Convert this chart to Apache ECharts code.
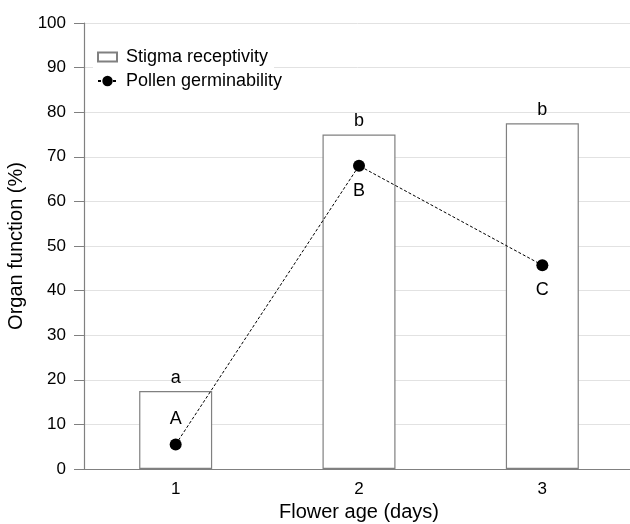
<!DOCTYPE html>
<html><head><meta charset="utf-8">
<script src="https://cdn.jsdelivr.net/npm/echarts@6/dist/echarts.min.js"></script>
<style>html,body{margin:0;padding:0;background:#fff}#c{width:630px;height:524px}</style>
</head><body><div id="c"></div>
<script>
const categories = ['1', '2', '3'];
const stigmaReceptivity = [17.5, 75, 77.5];
const pollenGerminability = [5.5, 68, 45.7];
const stigmaLetters = ['a', 'b', 'b'];
const pollenLetters = ['A', 'B', 'C'];
const pollenLabelPos = ['top', 'bottom', 'bottom'];

const chart = echarts.init(document.getElementById('c'));
const font = 'Liberation Sans, Arial, sans-serif';
const legendText = { fontSize: 18, color: '#000', fontFamily: font, padding: [0, 0, 0, 4] };
chart.setOption({
  animation: false,
  textStyle: { fontFamily: font },
  grid: { left: 84, top: 23, width: 550, height: 446, containLabel: false, outerBoundsMode: 'none' },
  legend: [
    {
      orient: 'vertical', left: 93, top: 44, itemWidth: 19, itemHeight: 9,
      backgroundColor: '#fff', padding: [4, 6, 6, 4],
      textStyle: legendText,
      data: [{ name: 'Stigma receptivity', icon: 'rect' }]
    },
    {
      orient: 'vertical', left: 93, top: 69, itemWidth: 19, itemHeight: 13,
      backgroundColor: '#fff', padding: [3, 6, 4, 4],
      textStyle: legendText,
      data: [{ name: 'Pollen germinability' }]
    }
  ],
  xAxis: {
    type: 'category', data: categories, boundaryGap: true,
    axisLine: { lineStyle: { color: '#808080', width: 1.2 } },
    axisTick: { show: false },
    axisLabel: { fontSize: 17, color: '#000', margin: 12, fontFamily: font },
    name: 'Flower age (days)', nameLocation: 'middle', nameGap: 33,
    nameTextStyle: { fontSize: 20, color: '#000', fontFamily: font }
  },
  yAxis: {
    type: 'value', min: 0, max: 100, interval: 10,
    axisLine: { show: true, lineStyle: { color: '#808080', width: 1.2 } },
    axisTick: { show: true, length: 10, lineStyle: { color: '#808080' } },
    axisLabel: { fontSize: 17, color: '#000', margin: 18, fontFamily: font },
    splitLine: { lineStyle: { color: '#e2e2e2' } },
    name: 'Organ function (%)', nameLocation: 'middle', nameGap: 49,
    nameTextStyle: { fontSize: 20, color: '#000', fontFamily: font }
  },
  series: [
    {
      name: 'Stigma receptivity', type: 'bar', barWidth: 73,
      itemStyle: { color: '#fff', borderColor: '#808080', borderWidth: 1.2 },
      data: stigmaReceptivity.map((v, i) => ({
        value: v,
        label: { show: true, position: 'top', formatter: stigmaLetters[i], fontSize: 18, color: '#000', distance: 4 }
      }))
    },
    {
      name: 'Pollen germinability', type: 'line', symbol: 'circle', symbolSize: 12,
      itemStyle: { color: '#000' },
      lineStyle: { color: '#000', width: 1, type: [3, 2] },
      data: pollenGerminability.map((v, i) => ({
        value: v,
        label: { show: true, position: pollenLabelPos[i], formatter: pollenLetters[i], fontSize: 18, color: '#000', distance: 10 }
      })),
      z: 3
    }
  ]
});
</script></body></html>
